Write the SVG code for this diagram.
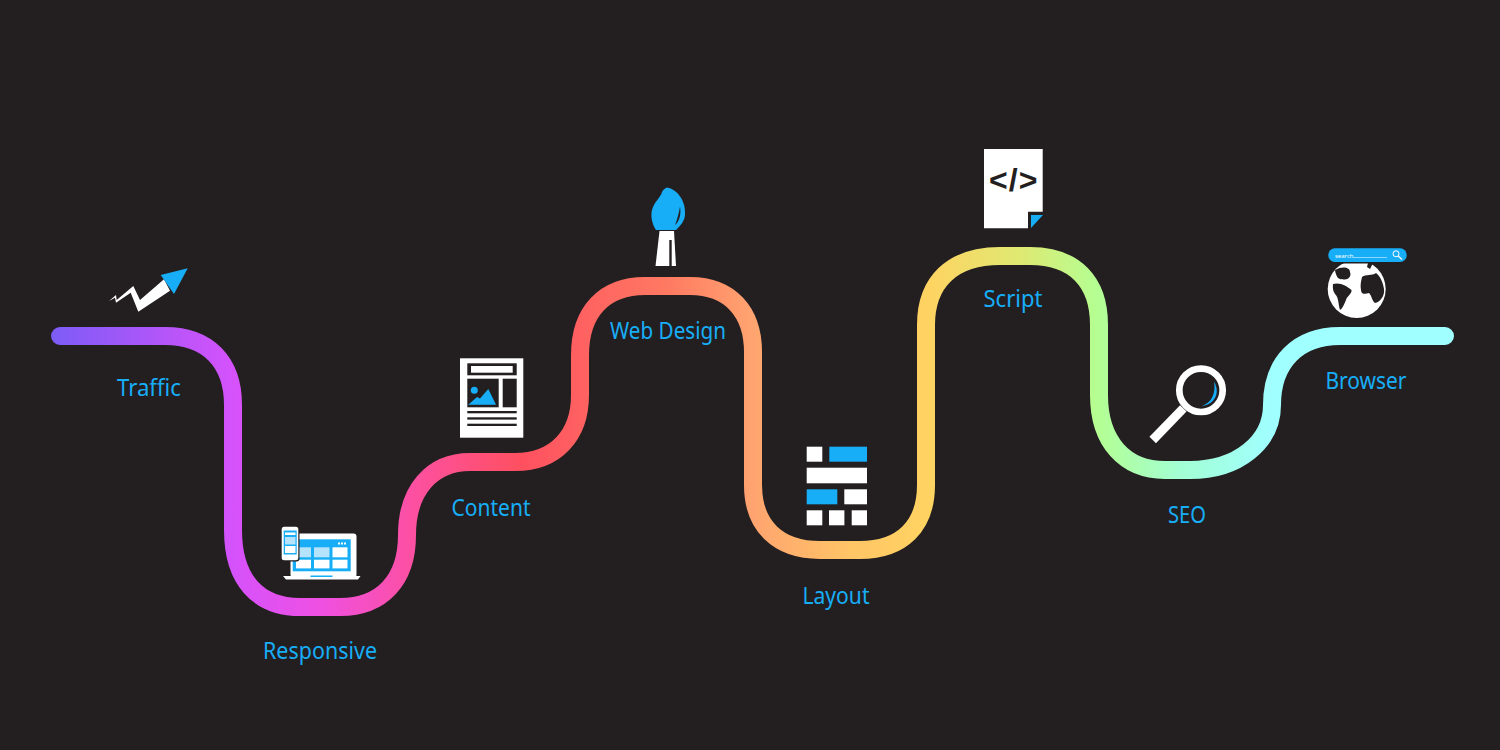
<svg xmlns="http://www.w3.org/2000/svg" width="1500" height="750" viewBox="0 0 1500 750">
<style>
.lb{font-family:"Noto Sans","Open Sans",sans-serif;font-size:23px;fill:#17aef7;text-anchor:middle}
.w{fill:#fff}.b{fill:#17aef7}.d{fill:#231f20}.l{fill:#b5e3fb}
</style>
<defs>
<linearGradient id="g" gradientUnits="userSpaceOnUse" x1="50" y1="0" x2="1455" y2="0">
<stop offset="0" stop-color="#7c5cf6"/>
<stop offset="0.13" stop-color="#d552fb"/>
<stop offset="0.19" stop-color="#ee50e4"/>
<stop offset="0.26" stop-color="#fd50a0"/>
<stop offset="0.335" stop-color="#fe5060"/>
<stop offset="0.44" stop-color="#ff7a62"/>
<stop offset="0.5" stop-color="#ffa470"/>
<stop offset="0.57" stop-color="#ffc566"/>
<stop offset="0.625" stop-color="#ffd362"/>
<stop offset="0.69" stop-color="#dfe972"/>
<stop offset="0.745" stop-color="#b4fe92"/>
<stop offset="0.805" stop-color="#a2ffd4"/>
<stop offset="0.87" stop-color="#a0ffff"/>
<stop offset="1" stop-color="#a0ffff"/>
</linearGradient>
</defs>
<rect width="1500" height="750" fill="#231f20"/>
<g id="connectors">
<path fill="none" stroke="url(#g)" stroke-width="18" stroke-linecap="round" d="M60 336H165C208 336 233 362 233 405V530C233 580 258 607 300 607H340C382 607 407 580 407 535C407 490 432 462 470 462H515C556 462 580 435 580 395V355C580 312 604 286 645 286H690C730 286 753 312 753 352V485C753 526 778 550 820 550H860C902 550 926 526 926 485V325C926 282 952 256 1000 256H1030C1075 256 1099 282 1099 325V395C1099 442 1125 470 1165 470H1190C1238 470 1272 442 1272 405C1272 362 1298 336 1340 336H1445"/>
</g>
<g id="traffic">
<polygon class="w" points="109,301 116,295 116.700,300 133.300,286 140,300 164,279.300 170,290.700 138.300,311.700 130.700,292.700 116,302.700 115,297.700"/>
<polygon class="b" points="160.700,275 187.700,268.300 174,294"/>
<text class="lb" x="149" y="396" textLength="64" lengthAdjust="spacingAndGlyphs">Traffic</text>
</g>
<g id="responsive">
<rect class="w" x="290.500" y="533.500" width="66" height="44" rx="3"/>
<path class="w" d="M283 576H360.500L358 579.500H286Z"/>
<rect class="b" x="292.700" y="539.300" width="58" height="32"/>
<rect class="l" x="296" y="547.300" width="15" height="10"/>
<rect class="l" x="314" y="547.300" width="15.500" height="10"/>
<rect class="w" x="332.500" y="547.300" width="15" height="10"/>
<rect class="w" x="296" y="559.700" width="15" height="8.700"/>
<rect class="w" x="314" y="559.700" width="15.500" height="8.700"/>
<rect class="w" x="332.500" y="559.700" width="15" height="8.700"/>
<rect class="w" x="338" y="542.500" width="2" height="2"/><rect class="w" x="341" y="542.500" width="2" height="2"/><rect class="w" x="344" y="542.500" width="2" height="2"/>
<rect class="b" x="310.500" y="575.500" width="22" height="1.500"/>
<rect x="280.500" y="525.500" width="19" height="36" rx="3" fill="#231f20"/>
<rect class="w" x="281.700" y="526.700" width="16.600" height="33.500" rx="2.500"/>
<rect class="b" x="283.700" y="530.500" width="13" height="24"/>
<rect class="w" x="285" y="532.500" width="10.500" height="2.500"/>
<rect class="l" x="285" y="537" width="10.500" height="7.500"/>
<rect class="w" x="285" y="546" width="10.500" height="7"/>
<text class="lb" x="320" y="659" textLength="114" lengthAdjust="spacingAndGlyphs">Responsive</text>
</g>
<g id="content">
<rect class="w" x="460" y="358.300" width="63.300" height="79.400"/>
<rect class="d" x="467.300" y="363.300" width="49.400" height="12"/>
<rect class="w" x="471" y="366" width="41.700" height="6.700"/>
<rect class="d" x="467.300" y="378.700" width="31.400" height="28.600"/>
<rect class="d" x="502.700" y="378.700" width="14" height="28.600"/>
<circle class="b" cx="474.300" cy="390.300" r="3.500"/>
<polygon class="b" points="468.300,404.700 477,397 480,398.500 488.300,389 496,404.700"/>
<rect class="d" x="467.300" y="411" width="49.400" height="2.300"/>
<rect class="d" x="467.300" y="417.300" width="49.400" height="2.300"/>
<rect class="d" x="467.300" y="423.700" width="49.400" height="2.300"/>
<text class="lb" x="491" y="516" textLength="79" lengthAdjust="spacingAndGlyphs">Content</text>
</g>
<g id="web-design">
<path class="b" d="M656 230C652 224 650.500 216 652 210C654 202 661 197 662 192C663 190 665 188 667 187.500C677 189 686 201 685 214C685 221 680 226 676 230Z"/>
<path class="d" d="M680 206.500C681.500 215 679 222 675 225C677 220 679 213 680 206.500Z"/>
<path class="w" d="M659.500 231H674L676 266H655.500Z"/>
<rect class="d" x="669.300" y="240" width="2.400" height="26"/>
<text class="lb" x="668" y="339" textLength="116" lengthAdjust="spacingAndGlyphs">Web Design</text>
</g>
<g id="layout">
<rect class="w" x="806.700" y="446.700" width="15.600" height="15"/>
<rect class="b" x="829.300" y="446.700" width="37.700" height="15"/>
<rect class="w" x="806.700" y="467.700" width="60.300" height="15.600"/>
<rect class="b" x="806.700" y="489.300" width="30.600" height="15"/>
<rect class="w" x="844.300" y="489.300" width="22.700" height="15"/>
<rect class="w" x="806.700" y="510.300" width="15.600" height="15"/>
<rect class="w" x="829" y="510.300" width="15.400" height="15"/>
<rect class="w" x="851.700" y="510.300" width="15.300" height="15"/>
<text class="lb" x="836" y="604" textLength="67" lengthAdjust="spacingAndGlyphs">Layout</text>
</g>
<g id="script">
<polygon class="w" points="984,149 1042.700,149 1042.700,211.700 1028,211.700 1028,228.300 984,228.300"/>
<polygon class="b" points="1031,215 1043,215 1031,228"/>
<text x="1013.700" y="191" font-family="Liberation Sans,sans-serif" font-weight="700" font-size="32" letter-spacing="1" fill="#231f20" text-anchor="middle">&lt;/&gt;</text>
<text class="lb" x="1013" y="307" textLength="59" lengthAdjust="spacingAndGlyphs">Script</text>
</g>
<g id="seo">
<circle cx="1201" cy="390.300" r="21.700" fill="none" stroke="#fff" stroke-width="6.700"/>
<line x1="1183.300" y1="408.300" x2="1152.700" y2="440" stroke="#fff" stroke-width="9"/>
<path class="b" d="M1214 381.700C1221 393 1214 405 1202 405.700C1212 403 1216 392 1214 381.700Z"/>
<text class="lb" x="1187" y="523" textLength="38" lengthAdjust="spacingAndGlyphs">SEO</text>
</g>
<g id="browser">
<circle class="w" cx="1356.700" cy="289" r="29"/>
<path class="d" d="M1335 270C1342 266 1350 267 1350 272C1352 277 1347 281 1342 279C1339 280 1336 277 1335 270Z"/>
<path class="d" d="M1333 284C1340 282 1347 286 1351.500 290C1352 294 1347 296 1346 300C1344 305 1342 309 1340 310C1338 304 1339 298 1335 294C1333 291 1332.500 288 1333 284Z"/>
<path class="d" d="M1362 277C1366 274 1372 276 1376 273C1380 276 1383 282 1384 289C1385 296 1380 302 1375 303C1372 301 1372 296 1369 293C1366 294 1361 295 1361 290C1360 286 1361 281 1362 277Z"/>
<path class="d" d="M1368 263H1373L1370 269L1367 267Z"/>
<rect x="1327" y="247" width="81" height="16.500" rx="8" fill="#231f20"/>
<rect class="b" x="1328.300" y="248.300" width="78.400" height="13.700" rx="6.500"/>
<text x="1335" y="257.500" font-family="Noto Sans,sans-serif" font-size="6" fill="#fff">search</text>
<line x1="1353" y1="257.500" x2="1387" y2="257.500" stroke="#bfe8fc" stroke-width="0.700"/>
<circle cx="1396" cy="253.800" r="3" fill="none" stroke="#fff" stroke-width="1"/>
<line x1="1398.200" y1="256" x2="1402" y2="259.500" stroke="#fff" stroke-width="1.200"/>
<text class="lb" x="1366" y="389" textLength="81" lengthAdjust="spacingAndGlyphs">Browser</text>
</g>
</svg>
